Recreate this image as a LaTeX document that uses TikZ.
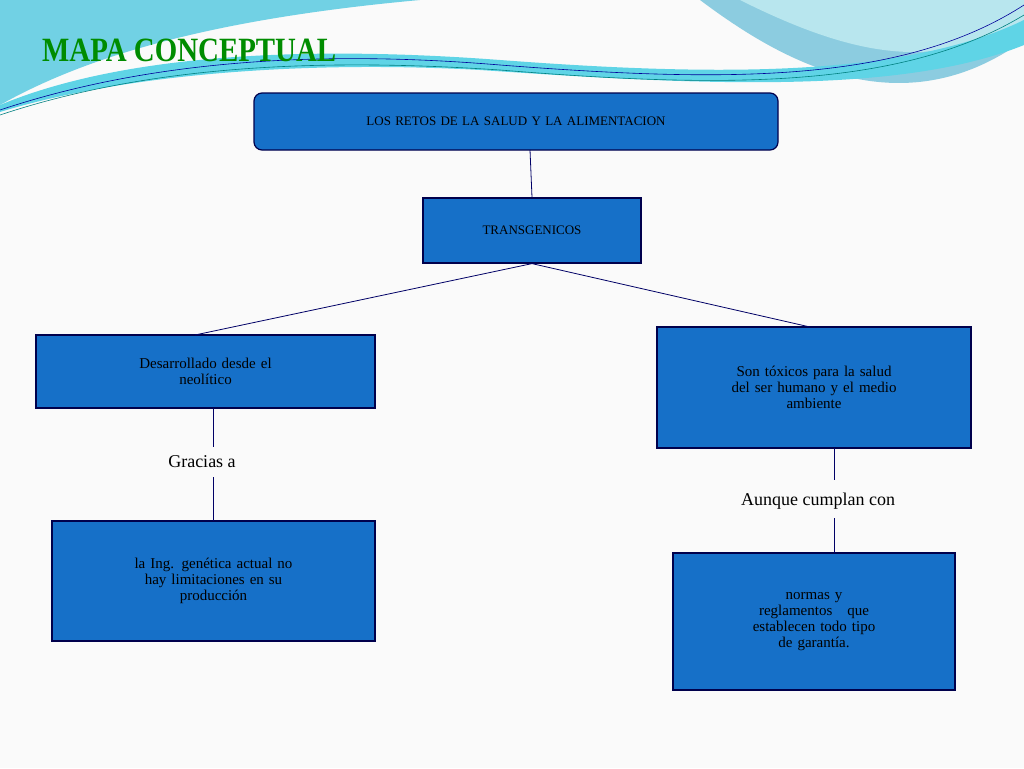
\documentclass[tikz,border=0pt]{standalone}
\usepackage{fontspec}
\setmainfont{Liberation Serif}
\begin{document}
\begin{tikzpicture}[x=1pt,y=-1pt,
  box/.style={draw=blue!30!black,line width=1.2pt,fill=boxblue,inner sep=0pt,text width=#1,align=center,font=\fontsize{15}{16}\selectfont},
  conn/.style={draw=blue!40!black,line width=0.8pt},
  lbl/.style={font=\fontsize{18}{20}\selectfont}]
\definecolor{boxblue}{HTML}{1670C8}
\definecolor{wave1}{HTML}{8CCCE0}
\definecolor{wave2}{HTML}{B8E6EE}
\definecolor{wave3}{HTML}{5FD4E6}
\useasboundingbox (0,0) rectangle (1024,768);
\fill[white!96!gray] (0,0) rectangle (1024,768);
% waves
\fill[wave1] (0,0) -- (700,0) .. controls (780,60) and (900,130) .. (1024,40) -- (1024,0) -- cycle;
\fill[wave2] (740,0) -- (1024,0) -- (1024,20) .. controls (940,70) and (860,60) .. (740,0) -- cycle;
\fill[wave3!60!wave1] (0,0) -- (420,0) .. controls (200,20) and (80,60) .. (0,105) -- cycle;
\fill[wave3] (0,105) .. controls (120,55) and (300,45) .. (500,60) .. controls (700,75) and (900,80) .. (1024,20) -- (1024,45) .. controls (900,95) and (700,85) .. (480,70) .. controls (300,60) and (120,75) .. (0,112) -- cycle;
\draw[blue!60!black,line width=0.6pt] (0,110) .. controls (150,60) and (320,50) .. (500,65) .. controls (720,82) and (900,85) .. (1024,5);
\draw[teal,line width=0.6pt] (0,115) .. controls (150,65) and (320,58) .. (500,70) .. controls (720,88) and (900,90) .. (1024,15);
\node[anchor=west,font=\bfseries\fontsize{34}{36}\selectfont,text=green!55!black,inner sep=0pt] (title) at (42,50) {\addfontfeature{FakeStretch=0.85}MAPA CONCEPTUAL};
% nodes
\node[box=524pt,minimum height=57pt,rounded corners=8pt,font=\fontsize{13}{15}\selectfont] (top) at (516,121.5) {LOS RETOS DE LA SALUD Y LA ALIMENTACION};
\node[box=218pt,minimum height=65pt,font=\fontsize{13}{15}\selectfont] (tr) at (532,230.5) {TRANSGENICOS};
\node[box=339pt,minimum height=73pt] (l1) at (205.5,371.5) {Desarrollado desde el\\neolítico\\[2pt]};
\node[box=314pt,minimum height=121pt] (r1) at (814,387.5) {Son tóxicos para la salud\\del ser humano y el medio\\ambiente\\[12pt]};
\node[box=323pt,minimum height=120pt] (l2) at (213.5,581) {la Ing. genética actual no\\hay limitaciones en su\\producción\\[12pt]};
\node[box=282pt,minimum height=137pt] (r2) at (814,621.5) {\\[-8pt]normas y\\reglamentos\ \ \ que\\establecen todo tipo\\de garantía.};
\node[lbl] (g) at (202,462) {Gracias a};
\node[lbl] (a) at (818,501) {Aunque cumplan con};
% connectors
\draw[conn] (530,150) -- (tr.north);
\draw[conn] (tr.south) -- (195,335);
\draw[conn] (tr.south) -- (810,327);
\draw[conn] (213,408) -- (213,447);
\draw[conn] (213,477) -- (213,521);
\draw[conn] (834,448) -- (834,480);
\draw[conn] (834,518) -- (834,553);
\end{tikzpicture}
\end{document}
